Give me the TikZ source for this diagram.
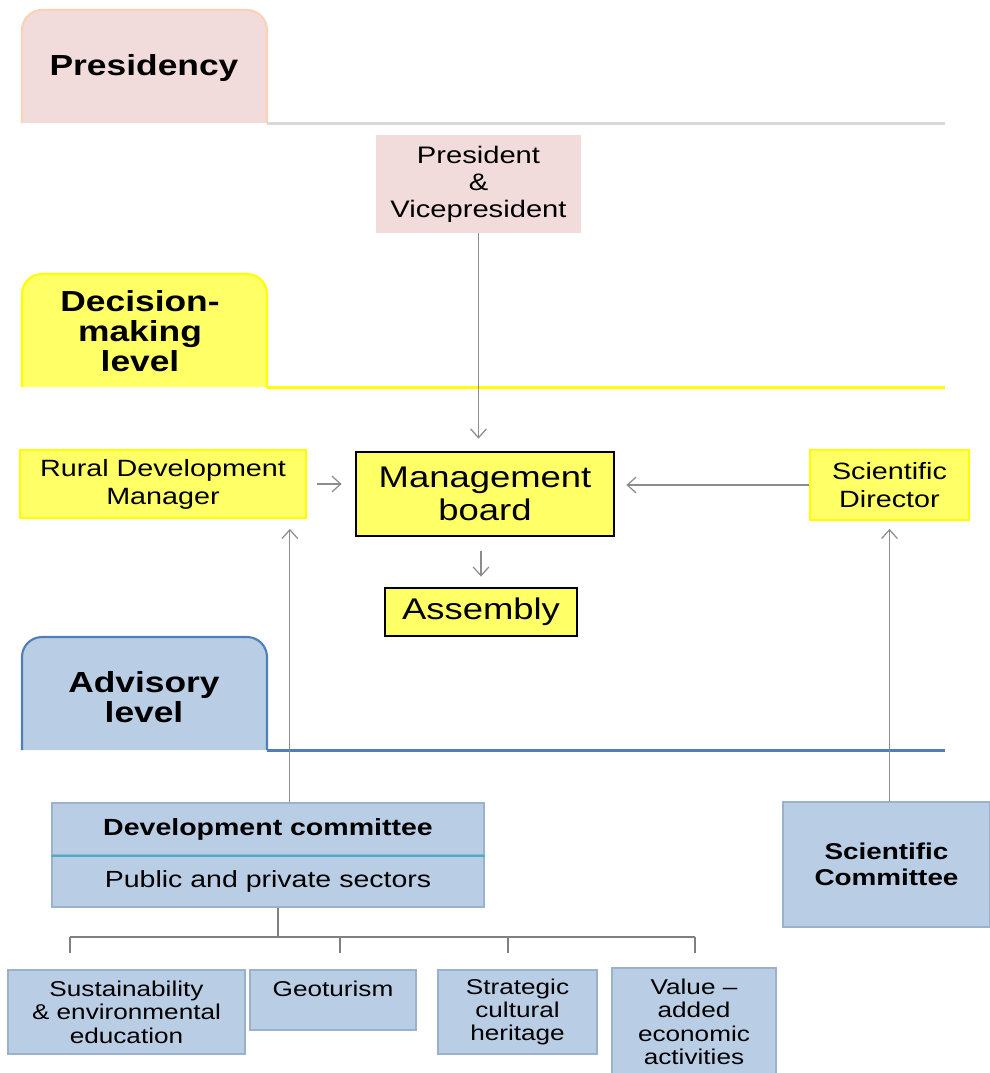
\documentclass[tikz,border=0pt]{standalone}
\usepackage{fontspec}
\setmainfont{Liberation Sans}[FakeStretch=1.22]
\usetikzlibrary{arrows.meta,calc,positioning}
\definecolor{pinkfill}{HTML}{F2DCDB}
\definecolor{peach}{HTML}{FAD3B5}
\definecolor{lightline}{HTML}{D9D9D9}
\definecolor{yellowfill}{HTML}{FFFF66}
\definecolor{yellowline}{HTML}{FFFF00}
\definecolor{bluefill}{HTML}{B9CDE5}
\definecolor{blueline}{HTML}{4F7FBA}
\definecolor{greyblue}{HTML}{9AB2CC}
\definecolor{teal}{HTML}{4BACC6}
\definecolor{arrowgray}{HTML}{8C8C8C}
\newcommand{\setfs}[2]{\fontsize{#1}{#2}\selectfont}

\begin{document}
\begin{tikzpicture}
      [x = 0.02cm, y = -0.02cm,
      conn/.style = {-{Straight Barb[length = 5pt, width = 9pt]}, arrowgray, line width = 0.7pt},
      tab/.style = {line width = 1.2pt, rounded corners = 0.4cm},
      tabtext/.style = {align = center, font = \setfs{16.5}{17}\bfseries},
      box/.style = {
         align = center,
         inner sep = 0pt
      },
      yellowbox/.style = {
         box,
         draw = yellowline,
         fill = yellowfill,
         line width = 1pt,
         font = \setfs{13.4}{16}
      },
      blackbox/.style = {
         box,
         draw = black,
         fill = yellowfill,
         line width = 1.6pt,
         font = \setfs{17}{19}
      },
      bluebox/.style = {
         box,
         draw = greyblue,
         fill = bluefill,
         line width = 1pt,
         font = \setfs{12.2}{13.3}
      }]

      \useasboundingbox (0, 0) rectangle (990, 1073);

      % levels
      \filldraw[tab, draw = peach, fill = pinkfill] (22, 123) -- (22, 10) -- (267, 10) -- (267, 123);
      \draw[lightline, line width = 1.7pt] (267, 123) -- (945, 123);
      \node[tabtext] (presidency) at (144, 68) {Presidency};

      \filldraw[tab, draw = yellowline, fill = yellowfill] (22, 387) -- (22, 274) -- (267, 274) -- (267, 387);
      \draw[yellowline, line width = 1.7pt] (267, 387) -- (945, 387);
      \node[tabtext] (decision) at (140, 331) {Decision-\\making\\level};

      \filldraw[tab, draw = blueline, fill = bluefill] (22, 750) -- (22, 637) -- (267, 637) -- (267, 750);
      \draw[blueline, line width = 1.7pt] (267, 750) -- (945, 750);
      \node[tabtext] (advisory) at (144, 697) {Advisory\\level};

      % boxes
      \node[box, fill = pinkfill, minimum width = 4.1cm, minimum height = 1.96cm,
         font = \setfs{13.6}{15.3}] (pres) at (478.5, 184) {President\\\&\\Vicepresident};

      \node[yellowbox, minimum width = 5.72cm, minimum height = 1.36cm] (rdm) at (163, 484)
         {Rural Development\\Manager};
      \node[blackbox, minimum width = 5.16cm, minimum height = 1.68cm] (mgmt) at (485, 494)
         {Management\\board};
      \node[yellowbox, minimum width = 3.18cm, minimum height = 1.4cm] (sdir) at (889.5, 485)
         {Scientific\\Director};
      \node[blackbox, minimum width = 3.84cm, minimum height = 0.96cm] (assem) at (481, 612)
         {Assembly};

      \node[bluebox, minimum width = 8.64cm, minimum height = 1.04cm,
         font = \setfs{13.3}{15}\bfseries] (devtop) at (268, 829) {Development committee};
      \node[bluebox, minimum width = 8.64cm, minimum height = 1.04cm,
         font = \setfs{13.3}{15}] (devbot) at (268, 881) {Public and private sectors};
      \draw[teal, line width = 1pt] (devtop.south west) -- (devtop.south east);

      \node[bluebox, minimum width = 4.14cm, minimum height = 2.5cm,
         font = \setfs{13}{15}\bfseries] (scom) at (886.5, 864.5) {Scientific\\Committee};

      \node[bluebox, minimum width = 4.74cm, minimum height = 1.68cm] (sust) at (126.5, 1012)
         {Sustainability\\\& environmental\\education};
      \node[bluebox, minimum width = 3.32cm, minimum height = 1.2cm] (geo) at (333, 1000)
         {Geoturism\\~};
      \node[bluebox, minimum width = 3.18cm, minimum height = 1.68cm] (strat) at (517.5, 1012)
         {Strategic\\cultural\\heritage};
      \node[bluebox, minimum width = 3.28cm, minimum height = 2.16cm] (value) at (694, 1022)
         {Value --\\added\\economic\\activities};

      % tree under the development committee
      \coordinate (split) at ($(devbot.south) + (10, 30)$);
      \coordinate (barl) at (70, 937);
      \coordinate (barr) at (695, 937);
      \draw[gray, line width = 0.6pt] (devbot.south -| split) -- (split);
      \draw[gray, line width = 0.6pt] (barl) -- (barr);
      \foreach \tx in {70, 340, 508, 695}
         \draw[gray, line width = 0.6pt] (\tx, 937) -- (\tx, 953);

      % arrows
      \draw[conn, shorten >= 0.24cm] (pres.south) -- (pres.south |- mgmt.north);
      \draw[conn, shorten <= 0.2cm, shorten >= 0.26cm] (rdm.east) -- (rdm.east -| mgmt.west);
      \draw[conn, shorten >= 0.22cm] (sdir.west) -- (sdir.west -| mgmt.east);
      \draw[conn, shorten <= 0.28cm, shorten >= 0.2cm] (mgmt.south -| assem.north) -- (assem.north);

      \coordinate (rdmin) at ($(rdm.south east) + (-17, 0)$);
      \draw[conn, shorten >= 0.2cm] (rdmin |- devtop.north) -- (rdmin);
      \draw[conn, shorten >= 0.16cm] (sdir.south |- scom.north) -- (sdir.south);

   \end{tikzpicture}
\end{document}
